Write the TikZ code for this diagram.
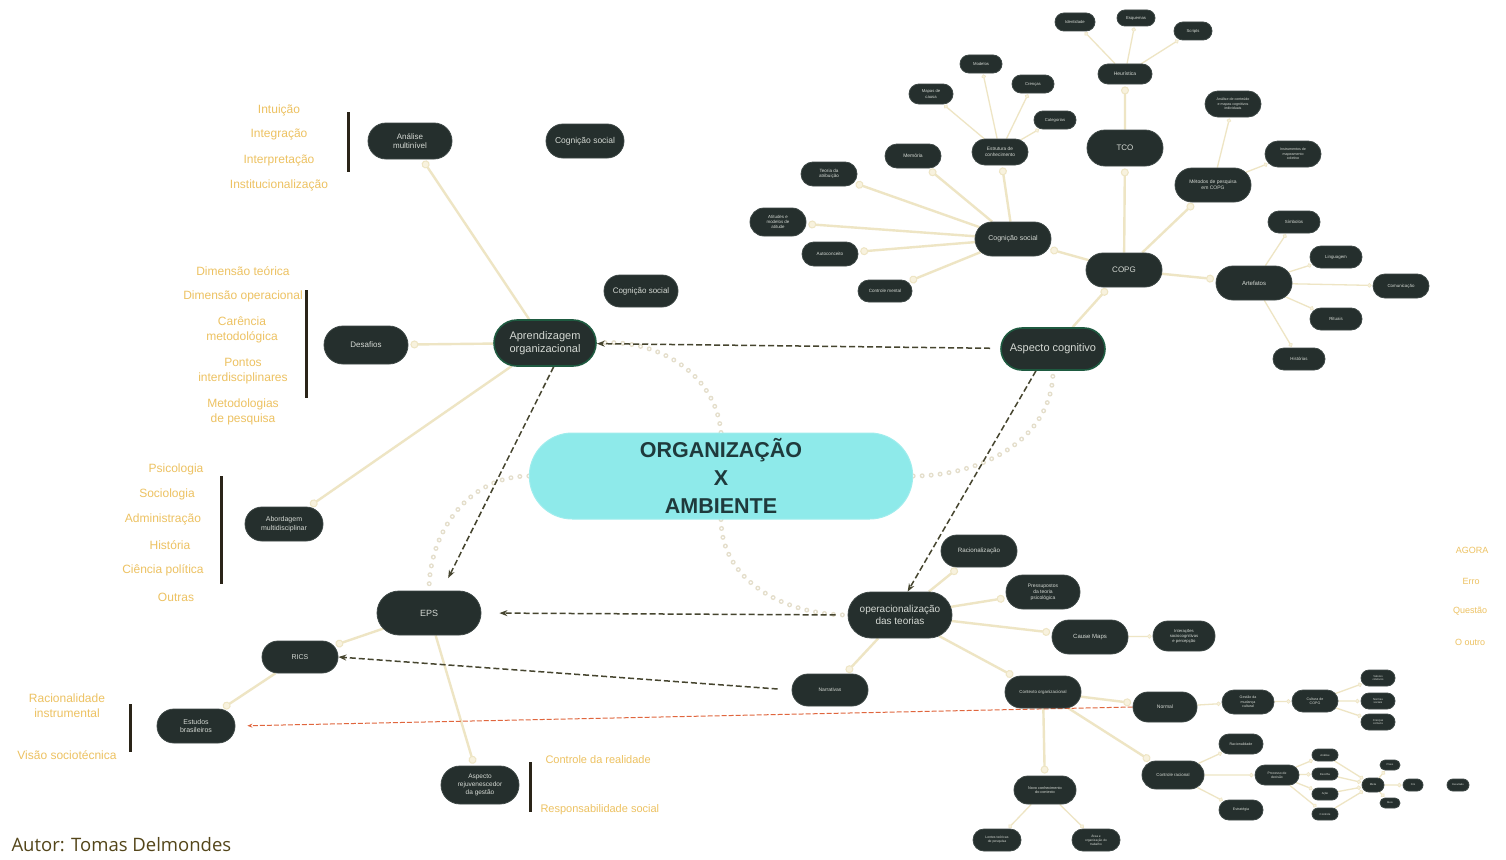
\documentclass[tikz,border=0pt]{standalone}
\usepackage{fontspec}
\setmainfont{Liberation Sans}
\newfontfamily\authorfont{Open Sans}
\usetikzlibrary{shapes.misc,arrows.meta}
\pgfdeclarelayer{bg}
\pgfsetlayers{bg,main}
\definecolor{nodebg}{HTML}{252F2D}
\definecolor{nodeedge}{HTML}{3C4644}
\definecolor{nodetext}{HTML}{D5D9D4}
\definecolor{greenedge}{HTML}{1E5A40}
\definecolor{cyanfill}{HTML}{8EEAEA}
\definecolor{orgtext}{HTML}{1F3A3C}
\definecolor{cream}{HTML}{EEE5C4}
\definecolor{creamfill}{HTML}{F8F2DE}
\definecolor{gold}{HTML}{EDC262}
\definecolor{dashc}{HTML}{46452F}
\definecolor{redline}{HTML}{E0663E}
\definecolor{ringc}{HTML}{E4DECB}
\definecolor{authorc}{HTML}{54461A}
\definecolor{barc}{HTML}{2A2418}
\tikzset{
  pill/.style={rounded rectangle, fill=nodebg, draw=nodeedge, line width=0.8pt,
    text=nodetext, align=center, inner sep=1pt},
  sz/.style 2 args={minimum width=#1, minimum height=#2},
  fs/.style={font=\linespread{1.2}\fontsize{#1}{#1}\selectfont},
  keynode/.style={draw=greenedge, line width=1.6pt},
  note/.style={text=gold, align=center, font=\linespread{1.25}\fontsize{12}{12}\selectfont},
  link/.style={draw=cream, line width=2.4pt, shorten >=2pt,
    -{Circle[length=8pt,width=8pt,fill=creamfill,color=cream,line width=1pt]}},
  slink/.style={draw=cream, line width=1.3pt, shorten >=1pt,
    -{Circle[length=4.5pt,width=4.5pt,fill=creamfill,color=cream,line width=0.6pt]}},
  dsh/.style={draw=dashc, line width=1.5pt, dash pattern=on 6pt off 3pt,
    -{Stealth[length=8pt,width=6pt]}},
  ring/.style={draw=ringc, line width=5pt, dash pattern=on 0pt off 9pt, line cap=round,
    postaction={draw=white, line width=2.2pt, dash pattern=on 0pt off 9pt, line cap=round}},
  bar/.style={draw=barc, line width=3pt},
}
\begin{document}
\begin{tikzpicture}[x=1pt,y=-1pt]
\useasboundingbox (0,0) rectangle (1506,859);

% central theme
\node[rounded rectangle, fill=cyanfill, draw=cyanfill!85!white, line width=1pt,
  minimum width=390pt, minimum height=86pt, text=orgtext, align=center,
  font=\fontsize{21.5}{28}\selectfont\bfseries] (org) at (721,476) {ORGANIZAÇÃO\\X\\AMBIENTE};

% main branches
\node[pill,keynode,sz={104pt}{46pt},fs=11] (ao) at (545,343) {Aprendizagem\\organizacional};
\node[pill,keynode,sz={106pt}{42pt},fs=11] (asp) at (1053,349) {Aspecto cognitivo};
\node[pill,sz={106pt}{46pt},fs=10] (op) at (900,615) {operacionalização\\das teorias};
\node[pill,sz={106pt}{44pt},fs=9] (eps) at (429,613) {EPS};

% left side
\node[pill,sz={86pt}{36pt},fs=8] (am) at (410,141) {Análise\\multinível};
\node[pill,sz={80pt}{34pt},fs=8.5] (cs1) at (585,141) {Cognição social};
\node[pill,sz={76pt}{32pt},fs=8] (cs3) at (641,291) {Cognição social};
\node[pill,sz={86pt}{38pt},fs=8] (des) at (366,345) {Desafios};
\node[pill,sz={80pt}{34pt},fs=7] (abm) at (284,524) {Abordagem\\multidisciplinar};
\node[pill,sz={78pt}{32pt},fs=7] (rics) at (300,657) {RICS};
\node[pill,sz={80pt}{34pt},fs=7] (eb) at (196,726) {Estudos\\brasileiros};
\node[pill,sz={80pt}{38pt},fs=6.5] (arj) at (480,785) {Aspecto\\rejuvenescedor\\da gestão};

% upper right cluster
\node[pill,sz={78pt}{34pt},fs=8] (copg) at (1124,270) {COPG};
\node[pill,sz={78pt}{36pt},fs=8] (tco) at (1125,148) {TCO};
\node[pill,sz={56pt}{20pt},fs=5] (heur) at (1125,74) {Heurística};
\node[pill,sz={42pt}{18pt},fs=4.2] (t1) at (1075,22) {Identidade};
\node[pill,sz={40pt}{16pt},fs=4.2] (t2) at (1136,18) {Esquemas};
\node[pill,sz={40pt}{18pt},fs=4.2] (t3) at (1193,31) {Scripts};
\node[pill,sz={78pt}{34pt},fs=7] (cs2) at (1013,239) {Cognição social};
\node[pill,sz={58pt}{26pt},fs=4.8] (es) at (1000,152) {Estrutura de\\conhecimento};
\node[pill,sz={44pt}{18pt},fs=4.2] (m1) at (981,64) {Modelos};
\node[pill,sz={46pt}{20pt},fs=4.2] (m2) at (931,94) {Mapas de\\causa};
\node[pill,sz={44pt}{18pt},fs=4.2] (m3) at (1033,84) {Crenças};
\node[pill,sz={44pt}{18pt},fs=4.2] (m4) at (1055,120) {Categorias};
\node[pill,sz={58pt}{24pt},fs=5] (mem) at (913,156) {Memória};
\node[pill,sz={58pt}{24pt},fs=4.6] (ta) at (829,174) {Teoria da\\atribuição};
\node[pill,sz={58pt}{28pt},fs=4.4] (atm) at (778,222) {Atitudes e\\modelos de\\atitude};
\node[pill,sz={58pt}{24pt},fs=4.6] (auto) at (830,254) {Autoconceito};
\node[pill,sz={56pt}{22pt},fs=4.6] (ctm) at (885,291) {Controle mental};
\node[pill,sz={78pt}{34pt},fs=5] (mp) at (1213,185) {Métodos de pesquisa\\em COPG};
\node[pill,sz={58pt}{26pt},fs=3.6] (mp1) at (1233,104) {Análise de conteúdo\\e mapas cognitivos\\individuais};
\node[pill,sz={58pt}{26pt},fs=3.6] (mp2) at (1293,154) {Instrumentos de\\mapeamento\\coletivo};
\node[pill,sz={78pt}{34pt},fs=6] (art) at (1254,283) {Artefatos};
\node[pill,sz={54pt}{22pt},fs=4.4] (a1) at (1294,222) {Símbolos};
\node[pill,sz={54pt}{22pt},fs=4.4] (a2) at (1336,257) {Linguagem};
\node[pill,sz={58pt}{24pt},fs=4.4] (a3) at (1401,286) {Comunicação};
\node[pill,sz={54pt}{22pt},fs=4.4] (a4) at (1336,319) {Rituais};
\node[pill,sz={54pt}{22pt},fs=4.4] (a5) at (1299,359) {Histórias};

% lower right cluster
\node[pill,sz={78pt}{32pt},fs=6.2] (rac) at (979,551) {Racionalização};
\node[pill,sz={76pt}{34pt},fs=5] (pre) at (1043,592) {Pressupostos\\da teoria\\psicológica};
\node[pill,sz={78pt}{34pt},fs=6] (cmap) at (1090,637) {Cause Maps};
\node[pill,sz={64pt}{30pt},fs=4.2] (cm3) at (1184,636) {Interações\\sociocognitivas\\e percepção};
\node[pill,sz={78pt}{32pt},fs=5] (narr) at (830,690) {Narrativas};
\node[pill,sz={78pt}{32pt},fs=4.4] (ctx) at (1043,692) {Contexto organizacional};
\node[pill,sz={66pt}{30pt},fs=5] (nor) at (1165,707) {Normal};
\node[pill,sz={54pt}{24pt},fs=3.6] (n1) at (1248,702) {Gestão da\\mudança\\cultural};
\node[pill,sz={48pt}{22pt},fs=3.6] (n2) at (1315,701) {Cultura de\\COPG};
\node[pill,sz={36pt}{16pt},fs=2.8] (n3a) at (1378,678) {Valores\\coletivos};
\node[pill,sz={36pt}{16pt},fs=2.8] (n3b) at (1378,701) {Normas\\sociais};
\node[pill,sz={36pt}{16pt},fs=2.8] (n3c) at (1378,722) {Crenças\\comuns};
\node[pill,sz={64pt}{28pt},fs=4.4] (cr) at (1173,775) {Controle racional};
\node[pill,sz={46pt}{20pt},fs=3.6] (c1) at (1241,744) {Racionalidade};
\node[pill,sz={46pt}{20pt},fs=3.6] (c2) at (1241,810) {Estratégia};
\node[pill,sz={46pt}{20pt},fs=3.4] (c3) at (1277,775) {Processo de\\decisão};
\node[pill,sz={28pt}{12pt},fs=2.8] (d1) at (1325,755) {Análise};
\node[pill,sz={28pt}{12pt},fs=2.8] (d2) at (1325,774) {Escolha};
\node[pill,sz={28pt}{12pt},fs=2.8] (d3) at (1325,794) {Ação};
\node[pill,sz={28pt}{12pt},fs=2.8] (d4) at (1325,814) {Controle};
\node[pill,sz={24pt}{14pt},fs=2.8] (e0) at (1373,785) {Meta};
\node[pill,sz={22pt}{10pt},fs=2.6] (e1) at (1390,765) {Plano};
\node[pill,sz={22pt}{10pt},fs=2.6] (e2) at (1390,803) {Meio};
\node[pill,sz={22pt}{12pt},fs=2.6] (e3) at (1413,785) {Fim};
\node[pill,sz={24pt}{12pt},fs=2.6] (e4) at (1458,785) {Resultado};
\node[pill,sz={64pt}{28pt},fs=3.8] (nc) at (1045,790) {Novo conhecimento\\do contexto};
\node[pill,sz={50pt}{22pt},fs=3.4] (nc1) at (997,840) {Lentes teóricas\\de pesquisa};
\node[pill,sz={50pt}{22pt},fs=3.2] (nc2) at (1096,840) {Área e\\organização do\\trabalho};

% side notes
\node[note] (i1) at (279,110) {Intuição};
\node[note] (i2) at (279,134) {Integração};
\node[note] (i3) at (279,160) {Interpretação};
\node[note] (i4) at (279,185) {Institucionalização};
\node[note] (d01) at (243,271) {Dimensão teórica};
\node[note] (d02) at (243,296) {Dimensão operacional};
\node[note] (d03) at (242,330) {Carência\\metodológica};
\node[note] (d04) at (243,371) {Pontos\\interdisciplinares};
\node[note] (d05) at (243,412) {Metodologias\\de pesquisa};
\node[note] (b1) at (176,469) {Psicologia};
\node[note] (b2) at (167,494) {Sociologia};
\node[note] (b3) at (163,519) {Administração};
\node[note] (b4) at (170,545) {História};
\node[note] (b5) at (163,570) {Ciência política};
\node[note] (b6) at (176,597) {Outras};
\node[note] (r1) at (67,706) {Racionalidade\\instrumental};
\node[note] (r2) at (67,755) {Visão sociotécnica};
\node[note,anchor=west,fs=11] (g1) at (542,760) {Controle da realidade};
\node[note,anchor=west,fs=11] (g2) at (537,810) {Responsabilidade social};
\node[note,fs=9] (q1) at (1472,550) {AGORA};
\node[note,fs=9] (q2) at (1471,581) {Erro};
\node[note,fs=9] (q3) at (1470,611) {Questão};
\node[note,fs=9] (q4) at (1470,642) {O outro};

\node[anchor=west, text=authorc, font=\authorfont\fontsize{18.5}{20}\selectfont] (autor) at (8,845) {Autor: Tomas Delmondes};

% brackets beside the note lists
\draw[bar] (348,112) -- (348,172);
\draw[bar] (306,290) -- (306,398);
\draw[bar] (221,476) -- (221,584);
\draw[bar] (130,704) -- (130,752);
\draw[bar] (530,762) -- (530,812);

\begin{pgfonlayer}{bg}
\fill[white] (0,0) rectangle (1506,859);
% dotted ties from the central theme
\draw[ring] (org.north) to[out=95,in=5] (ao.east);
\draw[ring] (org.west) to[out=180,in=90] (eps.north);
\draw[ring] (org.east) to[out=0,in=-90] (asp.south);
\draw[ring] (org.south) to[out=-90,in=180] (op.west);

% solid branches
\draw[link] (ao) -- (am);
\draw[link] (ao) -- (des);
\draw[link] (ao) -- (abm);
\draw[link] (eps) -- (rics);
\draw[link] (rics) -- (eb);
\draw[link] (eps) -- (arj);

\draw[link] (asp) -- (copg);
\draw[link] (copg) -- (tco);
\draw[link] (tco) -- (heur);
\draw[slink] (heur) -- (t1);
\draw[slink] (heur) -- (t2);
\draw[slink] (heur) -- (t3);
\draw[link] (copg) -- (cs2);
\draw[link] (cs2) -- (es);
\draw[slink] (es) -- (m1);
\draw[slink] (es) -- (m2);
\draw[slink] (es) -- (m3);
\draw[slink] (es) -- (m4);
\draw[link] (cs2) -- (mem);
\draw[link] (cs2) -- (ta);
\draw[link] (cs2) -- (atm);
\draw[link] (cs2) -- (auto);
\draw[link] (cs2) -- (ctm);
\draw[link] (copg) -- (mp);
\draw[slink] (mp) -- (mp1);
\draw[slink] (mp) -- (mp2);
\draw[link] (copg) -- (art);
\draw[slink] (art) -- (a1);
\draw[slink] (art) -- (a2);
\draw[slink] (art) -- (a3);
\draw[slink] (art) -- (a4);
\draw[slink] (art) -- (a5);

\draw[link] (op) -- (rac);
\draw[link] (op) -- (pre);
\draw[link] (op) -- (cmap);
\draw[slink] (cmap) -- (cm3);
\draw[link] (op) -- (narr);
\draw[link] (op) -- (ctx);
\draw[link] (ctx) -- (nor);
\draw[slink] (nor) -- (n1);
\draw[slink] (n1) -- (n2);
\draw[slink] (n2) -- (n3a);
\draw[slink] (n2) -- (n3b);
\draw[slink] (n2) -- (n3c);
\draw[link] (ctx) -- (cr);
\draw[slink] (cr) -- (c1);
\draw[slink] (cr) -- (c2);
\draw[slink] (cr) -- (c3);
\draw[slink] (c3) -- (d1);
\draw[slink] (c3) -- (d2);
\draw[slink] (c3) -- (d3);
\draw[slink] (c3) -- (d4);
\draw[slink] (d1) -- (e0);
\draw[slink] (d2) -- (e0);
\draw[slink] (d3) -- (e0);
\draw[slink] (d4) -- (e0);
\draw[slink] (e0) -- (e1);
\draw[slink] (e0) -- (e2);
\draw[slink] (e0) -- (e3);
\draw[link] (ctx) -- (nc);
\draw[slink] (nc) -- (nc1);
\draw[slink] (nc) -- (nc2);

% dashed relations
\draw[dsh, shorten <=10pt] (asp) -- (ao);
\draw[dsh, shorten >=14pt] (ao.290) -- (eps.60);
\draw[dsh] (asp.232) -- (op.72);
\draw[dsh, shorten >=18pt, shorten <=12pt] (op.west) -- (eps.east);
\draw[dsh, shorten <=14pt] (narr.west) -- (rics.east);
\draw[draw=redline, line width=1pt, dash pattern=on 5pt off 2pt, shorten >=12pt, -{Stealth[length=5pt,width=4pt]}] (nor.west) -- (eb.east);
\end{pgfonlayer}
\end{tikzpicture}
\end{document}
